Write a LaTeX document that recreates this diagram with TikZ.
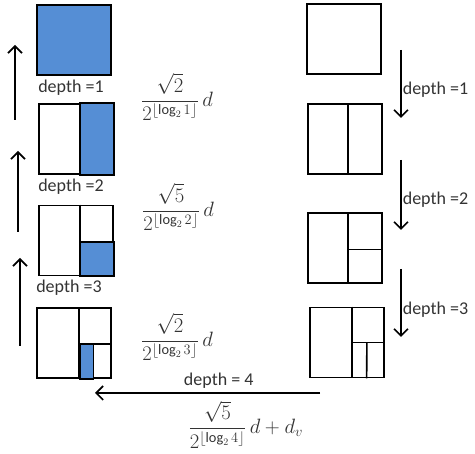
\documentclass[tikz,border=0pt]{standalone}
\usepackage{fontspec}
\setmainfont{Carlito}
\usepackage{amsmath}
\definecolor{cellblue}{HTML}{558ED5}
\usetikzlibrary{arrows.meta, positioning, calc}

\begin{document}
\begin{tikzpicture}[
        x=1pt, y=-1pt,
        square/.style={rectangle, draw=black, line width=1.6pt, minimum width=74pt, minimum height=70pt, inner sep=0pt},
        split/.style={draw=black, line width=1.6pt},
        cell/.style={fill=cellblue, draw=black, line width=1.6pt},
        lbl/.style={font=\fontsize{18}{20}\selectfont, text=black!80, inner sep=1pt},
        frm/.style={font=\fontsize{20.5}{24}\selectfont, text=black!80, inner sep=0pt},
        arrow/.style={-{Straight Barb[length=7pt, width=14pt, line width=1.6pt]}, line width=1.6pt}
    ]
    \useasboundingbox (0,0) rectangle (475,454);

    % left column: boxes after the walk back up
    \node [square, fill=cellblue] (l1) at (74,40) {};
    \node [square] (l2) at (76,139) {};
    \node [square] (l3) at (76,240.5) {};
    \node [square] (l4) at (74,343) {};

    \filldraw [cell] ($(l2.north west)!0.55!(l2.north east)$) rectangle (l2.south east);
    \draw [split] ($(l3.north west)!0.55!(l3.north east)$) -- ($(l3.south west)!0.55!(l3.south east)$);
    \filldraw [cell] ($(l3.south west)!0.55!(l3.south east)$) rectangle ($(l3.north east)!0.52!(l3.south east)$);
    \draw [split] ($(l4.north west)!0.57!(l4.north east)$) -- ($(l4.south west)!0.57!(l4.south east)$);
    \draw [split] ($(l4.north east)!0.51!(l4.south east)$) -- ++(-32,0) coordinate (l4m);
    \filldraw [cell] (l4m) rectangle ($(l4.south west)!0.76!(l4.south east)$);

    \node [lbl, below=3pt of l1, xshift=-3pt] (dl1) {depth =1};
    \node [lbl, below=3pt of l2, xshift=-5pt] (dl2) {depth =2};
    \node [lbl, below=3pt of l3, xshift=-7pt] (dl3) {depth =3};

    \coordinate (u1s) at (15,120);
    \coordinate (u1e) at (15,45);
    \coordinate (u2s) at (18,232);
    \coordinate (u2e) at (18,151);
    \coordinate (u3s) at (20,346);
    \coordinate (u3e) at (20,258);
    \draw [arrow] (u1s) -- (u1e);
    \draw [arrow] (u2s) -- (u2e);
    \draw [arrow] (u3s) -- (u3e);

    \node [frm] (f1) at (177,97) {$\displaystyle\frac{\sqrt{2}}{2^{\lfloor\log_2 1\rfloor}}\,d$};
    \node [frm] (f2) at (178,207) {$\displaystyle\frac{\sqrt{5}}{2^{\lfloor\log_2 2\rfloor}}\,d$};
    \node [frm] (f3) at (177,337) {$\displaystyle\frac{\sqrt{2}}{2^{\lfloor\log_2 3\rfloor}}\,d$};

    % right column: boxes while splitting down
    \node [square] (r1) at (344,39) {};
    \node [square] (r2) at (345,139) {};
    \node [square] (r3) at (345,248) {};
    \node [square] (r4) at (347,342.5) {};

    \draw [split] ($(r2.north west)!0.54!(r2.north east)$) -- ($(r2.south west)!0.54!(r2.south east)$);
    \draw [split] ($(r3.north west)!0.54!(r3.north east)$) -- ($(r3.south west)!0.54!(r3.south east)$);
    \draw [split] ($(r3.north east)!0.52!(r3.south east)$) -- ++(-35,0);
    \draw [split] ($(r4.north west)!0.57!(r4.north east)$) -- ($(r4.south west)!0.57!(r4.south east)$);
    \draw [split] ($(r4.north east)!0.5!(r4.south east)$) -- ++(-32,0) coordinate (r4m);
    \draw [split] ($(r4m)!0.44!(r4m-|r4.east)$) -- ($(r4.south west)!0.76!(r4.south east)$);

    \coordinate (d1s) at (401,50);
    \coordinate (d1e) at (401,118);
    \coordinate (d2s) at (401,160);
    \coordinate (d2e) at (401,230);
    \coordinate (d3s) at (401,269);
    \coordinate (d3e) at (401,337);
    \draw [arrow] (d1s) -- node [lbl, right, pos=0.58] (dr1) {depth =1} (d1e);
    \draw [arrow] (d2s) -- node [lbl, right, pos=0.57] (dr2) {depth =2} (d2e);
    \draw [arrow] (d3s) -- node [lbl, right, pos=0.6] (dr3) {depth =3} (d3e);

    % back to the left
    \coordinate (b4s) at (320,393);
    \coordinate (b4e) at (95,393);
    \draw [arrow] (b4s) -- node [lbl, above=3pt, pos=0.45] (d4) {depth = 4}
        node [frm, below=7pt, pos=0.33] (f4) {$\displaystyle\frac{\sqrt{5}}{2^{\lfloor\log_2 4\rfloor}}\,d+d_v$} (b4e);
\end{tikzpicture}
\end{document}
